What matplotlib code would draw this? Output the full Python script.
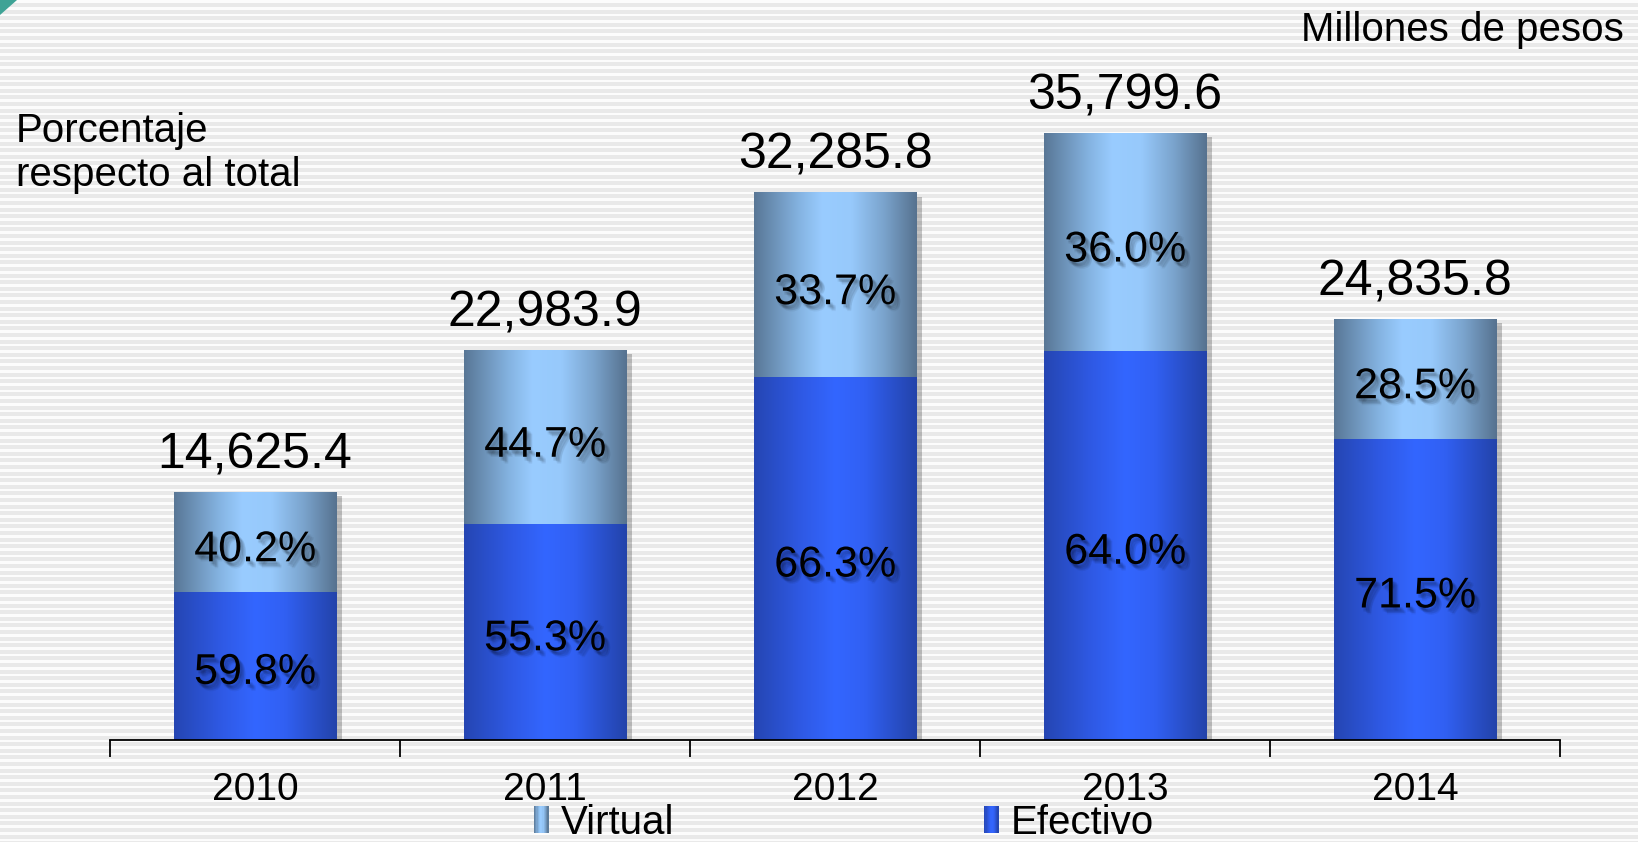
import numpy as np
import matplotlib
matplotlib.use("Agg")
import matplotlib.pyplot as plt
from matplotlib.colors import LinearSegmentedColormap, to_rgb
from matplotlib.patches import Rectangle, Polygon
from matplotlib.legend_handler import HandlerBase
import matplotlib.patheffects as pe

# ---------------- data ----------------
years = ["2010", "2011", "2012", "2013", "2014"]
totals = [14625.4, 22983.9, 32285.8, 35799.6, 24835.8]
pct_efectivo = [59.8, 55.3, 66.3, 64.0, 71.5]
pct_virtual = [40.2, 44.7, 33.7, 36.0, 28.5]
series_names = ["Virtual", "Efectivo"]
unit_label = "Millones de pesos"
pct_title = "Porcentaje\nrespecto al total"

plt.rcParams["font.family"] = ["Liberation Sans", "DejaVu Sans"]

W, H, DPI = 1638, 842, 100
fig = plt.figure(figsize=(W / DPI, H / DPI), dpi=DPI)

# ---------------- striped background ----------------
rows = np.arange(H)
light = np.array(to_rgb("#fcfcfc"))
gray = np.array(to_rgb("#e9e9e9"))
mask = (rows % 6.6) < 2.6
stripes = np.where(mask[:, None], light[None, :], gray[None, :])
stripes = np.repeat(stripes[:, None, :], 4, axis=1)
bg = fig.add_axes([0, 0, 1, 1], zorder=-5)
bg.imshow(stripes, aspect="auto", extent=[0, 1, 0, 1], interpolation="nearest")
bg.set_axis_off()

# teal corner decoration
corner = Polygon([(0, 1), (17 / W, 1), (0, 1 - 15 / H)], closed=True,
                 transform=fig.transFigure, facecolor="#3fa396", edgecolor="none")
fig.patches.append(corner)

# ---------------- main axes ----------------
ax_left, ax_right, ax_bottom_px = 110, 1560, 740
ax = fig.add_axes([ax_left / W, (H - ax_bottom_px) / H,
                   (ax_right - ax_left) / W, ax_bottom_px / H])
ax.set_facecolor("none")

cmap_virtual = LinearSegmentedColormap.from_list(
    "virt", [(0.0, "#597796"), (0.28, "#85b4e2"), (0.42, "#99ccff"),
             (0.6, "#97c9fb"), (0.8, "#7aa3cc"), (1.0, "#56728f")])
cmap_efectivo = LinearSegmentedColormap.from_list(
    "efec", [(0.0, "#2546b3"), (0.3, "#2f5ae6"), (0.5, "#3366ff"),
             (0.68, "#3160f3"), (1.0, "#2343aa")])

x = np.arange(len(years))
totals_a = np.array(totals)
efectivo_vals = totals_a * np.array(pct_efectivo) / 100.0
virtual_vals = totals_a * np.array(pct_virtual) / 100.0
width = 0.56

shadow = [pe.SimplePatchShadow(offset=(4, -3), shadow_rgbFace="black", alpha=0.22), pe.Normal()]
bars_e = ax.bar(x, efectivo_vals, width, color="#3366ff", zorder=2, path_effects=shadow, linewidth=0)
bars_v = ax.bar(x, virtual_vals, width, bottom=efectivo_vals, color="#99ccff", zorder=2,
                path_effects=shadow, linewidth=0)

grad = np.linspace(0, 1, 256)[None, :]
for bars, cmap in ((bars_e, cmap_efectivo), (bars_v, cmap_virtual)):
    for b in bars:
        x0, y0 = b.get_x(), b.get_y()
        im = ax.imshow(grad, cmap=cmap, aspect="auto", interpolation="bicubic",
                       extent=[x0, x0 + b.get_width(), y0, y0 + b.get_height()], zorder=2.5)
        im.set_clip_path(b)

ax.set_xlim(-0.5, len(years) - 0.5)
ax.set_ylim(0, ax_bottom_px / 16.96 * 1000)

# soft (pseudo-blurred) text shadow
txt_shadow = [pe.SimplePatchShadow(offset=o, shadow_rgbFace="black", alpha=0.05)
              for o in [(1, -2), (2, -3), (3, -4), (2, -2), (3, -3), (1, -3), (4, -4), (4, -5)]] + [pe.Normal()]
for i in range(len(years)):
    ax.annotate(f"{totals[i]:,.1f}", (x[i], totals[i]), xytext=(0, 17),
                textcoords="offset points", ha="center", va="baseline",
                fontsize=36, color="black", zorder=5)
    yc_e = efectivo_vals[i] / 2
    ax.annotate(f"{pct_efectivo[i]:.1f}%", (x[i], yc_e), xytext=(0, -13),
                textcoords="offset points", ha="center", va="baseline",
                fontsize=31, color="black", zorder=5, path_effects=txt_shadow)
    yc_v = efectivo_vals[i] + virtual_vals[i] / 2
    ax.annotate(f"{pct_virtual[i]:.1f}%", (x[i], yc_v), xytext=(0, -14),
                textcoords="offset points", ha="center", va="baseline",
                fontsize=31, color="black", zorder=5, path_effects=txt_shadow)

# axes styling
for s in ("top", "right", "left"):
    ax.spines[s].set_visible(False)
ax.spines["bottom"].set_linewidth(1.3)
ax.spines["bottom"].set_color("black")
ax.spines["bottom"].set_zorder(4)
ax.set_yticks([])
ax.set_xticks(np.arange(-0.5, len(years), 1.0))
ax.set_xticklabels([])
ax.tick_params(axis="x", which="major", length=12, width=1.3, direction="out", color="black")
ax.set_xticks(x, minor=True)
ax.set_xticklabels(years, minor=True, fontsize=28)
ax.tick_params(axis="x", which="minor", length=0, pad=23)

# texts
fig.text(1624 / W, 1 - 30 / H, unit_label, ha="right", va="center", fontsize=29)
fig.text(16 / W, 1 - 153 / H, pct_title, ha="left", va="center", fontsize=29, linespacing=1.2)

# legend
class GradientHandler(HandlerBase):
    def __init__(self, cmap):
        super().__init__()
        self.cmap = cmap

    def create_artists(self, legend, orig_handle, xdescent, ydescent, width, height, fontsize, trans):
        n = 12
        arts = []
        for k in range(n):
            r = Rectangle((-xdescent + k * width / n, -ydescent - 0.1 * height), width / n + 0.3,
                          height * 1.2, facecolor=self.cmap((k + 0.5) / n), edgecolor="none",
                          transform=trans)
            arts.append(r)
        return arts

h_v = Rectangle((0, 0), 1, 1)
h_e = Rectangle((0, 0), 1, 1)
fig.legend([h_v, h_e], series_names, loc="center", bbox_to_anchor=(844 / W, 19 / H),
           ncol=2, frameon=False, fontsize=29, handlelength=0.36, handleheight=0.5,
           handletextpad=0.3, columnspacing=7.7, borderpad=0, borderaxespad=0,
           handler_map={h_v: GradientHandler(cmap_virtual), h_e: GradientHandler(cmap_efectivo)})

fig.savefig("out.png", dpi=DPI)
